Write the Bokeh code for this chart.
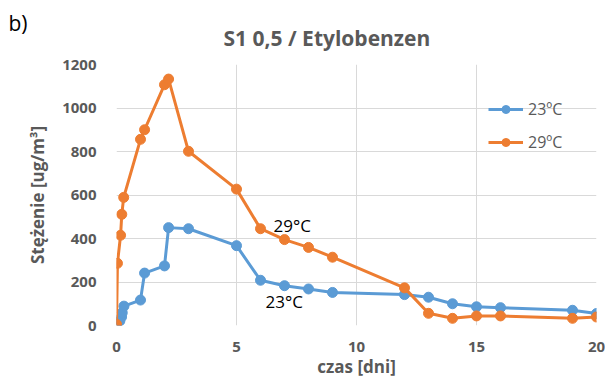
from bokeh.plotting import figure
from bokeh.models import Range1d, Label, Legend, LegendItem, FixedTicker, Title
from bokeh.embed import file_html
from bokeh.resources import INLINE

days_23 = [0, 0.14, 0.21, 0.24, 0.31, 1.0, 1.17, 2.0, 2.17, 3.0, 5.0, 6.0, 7.0, 8.0, 9.0, 12.0, 13.0, 14.0, 15.0, 16.0, 19.0, 20.0]
conc_23 = [8, 21, 39, 59, 89, 117, 241, 274, 450, 445, 367, 208, 183, 168, 152, 142, 130, 100, 86, 82, 70, 55]

days_29 = [0, 0.04, 0.17, 0.22, 0.3, 1.0, 1.17, 2.0, 2.17, 3.0, 5.0, 6.0, 7.0, 8.0, 9.0, 12.0, 13.0, 14.0, 15.0, 16.0, 19.0, 20.0]
conc_29 = [6, 286, 415, 511, 589, 856, 900, 1107, 1133, 801, 627, 445, 395, 359, 314, 173, 56, 33, 44, 44, 33, 39]

x_ticks = [0, 5, 10, 15, 20]
y_ticks = [0, 200, 400, 600, 800, 1000, 1200]

BLUE = "#5B9BD5"
ORANGE = "#ED7D31"
GREY = "#595959"
FONT = "Open Sans"

p = figure(width=605, height=380, output_backend="svg", toolbar_location=None,
           x_range=Range1d(0, 20), y_range=Range1d(0, 1200),
           min_border_left=116, min_border_right=9, min_border_top=64, min_border_bottom=52)
p.outline_line_color = None
p.background_fill_color = "white"

# outer title row: panel label
p.title.text = "b)"
p.title.align = "left"
p.title.vertical_align = "bottom"
p.title.offset = -108
p.title.standoff = -56
p.title.text_font = FONT
p.title.text_font_size = "21px"
p.title.text_font_style = "normal"
p.title.text_color = "black"

# inner title row: chart title
p.add_layout(Title(text="S1 0,5 / Etylobenzen", align="left", offset=107, standoff=26,
                   text_font=FONT, text_font_size="21px", text_font_style="bold",
                   text_color=GREY), "above")

for ax in (p.xaxis[0], p.yaxis[0]):
    ax.axis_line_color = None
    ax.major_tick_line_color = None
    ax.minor_tick_line_color = None
    ax.major_label_text_font = FONT
    ax.major_label_text_font_style = "bold"
    ax.major_label_text_font_size = "15px"
    ax.major_label_text_color = GREY
    ax.axis_label_text_font = FONT
    ax.axis_label_text_font_style = "bold"
    ax.axis_label_text_color = GREY

p.xaxis.axis_label_text_font_size = "17px"
p.yaxis.axis_label_text_font_size = "17px"
p.xaxis.ticker = FixedTicker(ticks=x_ticks)
p.yaxis.ticker = FixedTicker(ticks=y_ticks)
p.xaxis.major_label_standoff = 10
p.yaxis.major_label_standoff = 14
p.xaxis.axis_label = "czas [dni]"
p.yaxis.axis_label = "Stężenie [ug/m³]"
p.xaxis.axis_label_standoff = 0
p.yaxis.axis_label_standoff = 10

p.xgrid.grid_line_color = "#D9D9D9"
p.ygrid.grid_line_color = "#D9D9D9"
p.xgrid.grid_line_width = 1
p.ygrid.grid_line_width = 1

l1 = p.line(days_23, conc_23, line_color=BLUE, line_width=3)
c1 = p.scatter(days_23, conc_23, size=10, fill_color=BLUE, line_color=BLUE)
l2 = p.line(days_29, conc_29, line_color=ORANGE, line_width=3)
c2 = p.scatter(days_29, conc_29, size=10, fill_color=ORANGE, line_color=ORANGE)

legend = Legend(items=[LegendItem(label="23ºC", renderers=[l1, c1]),
                       LegendItem(label="29ºC", renderers=[l2, c2])],
                location=(372, 172), orientation="vertical",
                padding=0, margin=0, spacing=11,
                glyph_width=35, glyph_height=20, label_height=20, label_standoff=5,
                label_text_font=FONT, label_text_font_size="16px", label_text_color=GREY,
                border_line_alpha=0, background_fill_alpha=0)
p.add_layout(legend, "center")

p.add_layout(Label(x=6.54, y=459, text="29°C", text_font=FONT, text_font_size="17px",
                   text_color="black", text_align="left", text_baseline="middle"))
p.add_layout(Label(x=6.21, y=109, text="23°C", text_font=FONT, text_font_size="17px",
                   text_color="black", text_align="left", text_baseline="middle"))

open("out.html", "w").write(file_html(p, INLINE))
